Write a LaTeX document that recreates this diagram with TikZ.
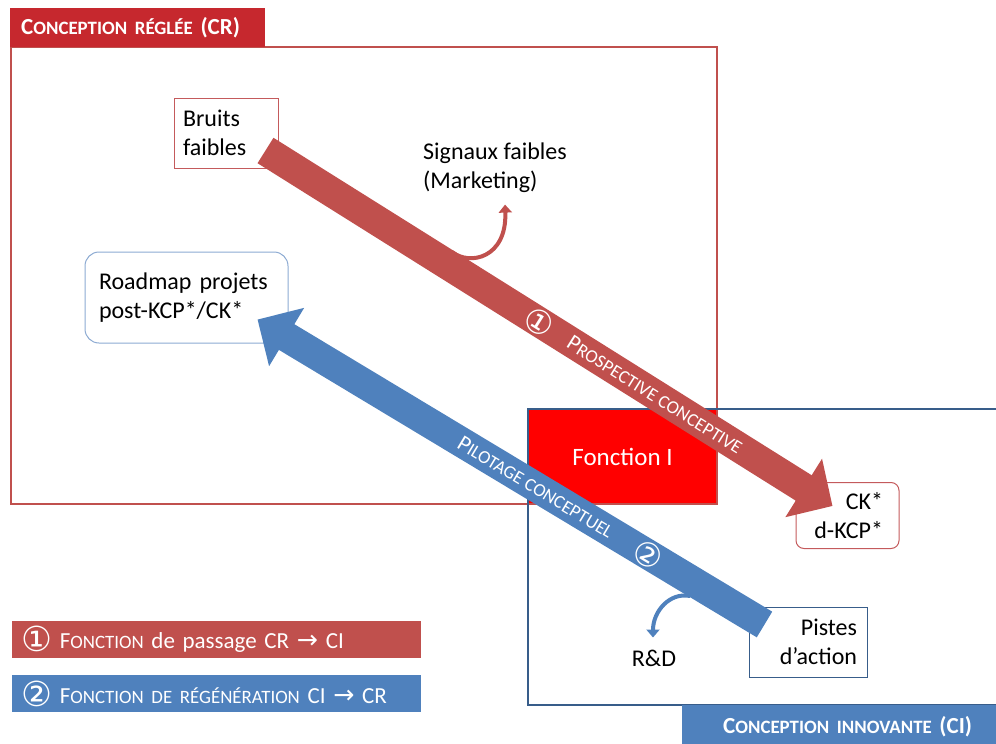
\documentclass[tikz,border=0pt]{standalone}
\usepackage{fontspec}
\setmainfont{Carlito}
\newfontfamily\symfont{DejaVu Sans}
\usetikzlibrary{arrows.meta,calc}

\definecolor{crred}{RGB}{192,80,77}
\definecolor{crtab}{RGB}{198,40,46}
\definecolor{crline}{RGB}{196,90,92}
\definecolor{ciblue}{RGB}{79,129,189}
\definecolor{ciline}{RGB}{56,93,138}
\definecolor{rmline}{RGB}{140,170,210}

\newcommand{\smc}[1]{{\fontsize{0.82em}{1em}\selectfont #1}}
\newcommand{\cnum}[2][1.1em]{{\symfont\fontsize{#1}{1em}\selectfont #2}}

\begin{document}
\begin{tikzpicture}[x=1pt, y=-1pt,
  font=\fontsize{24}{29}\selectfont,
  box/.style={rectangle, inner ysep=0pt, line width=1pt},
  tab/.style={rectangle, anchor=west, text=white, font=\fontsize{23}{28}\selectfont\bfseries, align=left},
  zone/.style={line width=1.5pt},
  band/.style={line width=30pt},
  bandtxt/.style={text=white, font=\fontsize{22.5}{24}\selectfont, sloped, inner sep=0pt},
  curl/.style={line width=4pt, -{Triangle[length=8pt, width=13pt]}},
  legend/.style={rectangle, anchor=west, minimum height=37pt, text width=391pt, inner xsep=9pt, align=left, text=white, font=\fontsize{23}{28}\selectfont},
]
\useasboundingbox (0,0) rectangle (996,744);
\clip (0,0) rectangle (996,744);

% ---------------- Zones CR / CI ----------------
\node[fill=red, minimum width=189pt, minimum height=95pt, text=white, font=\fontsize{25}{30}\selectfont] (fonc) at (622.5,456.5) {Fonction I};
\draw[zone, crred] (11,47) rectangle (717,504);
\draw[zone, ciline] (528,409) rectangle (1010,705);
\node[tab, fill=crtab, minimum height=39pt, text width=233pt, inner xsep=11pt] (crtitle) at (10,27.5) {C\smc{ONCEPTION RÉGLÉE} (CR)};
\node[tab, fill=ciblue, minimum height=44pt, text width=306pt, inner xsep=41pt] (cititle) at (682,727) {C\smc{ONCEPTION INNOVANTE} (CI)};

% ---------------- Boxes ----------------
\node[box, draw=crline, minimum width=104pt, minimum height=70pt, text width=86pt, inner xsep=9pt, align=left] (bruits) at (226,133) {Bruits\\faibles};
\node[box, draw=rmline, rounded corners=14pt, minimum width=203pt, minimum height=91pt, text width=175pt, inner xsep=14pt, align=left] (roadmap) at (186.5,297.5) {Roadmap projets\\post-KCP*/CK*};
\node[box, draw=crline, rounded corners=8pt, minimum width=103pt, minimum height=66pt, text width=71pt, inner xsep=16pt, align=right] (ck) at (847.5,515.5) {CK*\\d-KCP*};
\node[box, draw=ciline, minimum width=118pt, minimum height=70pt, text width=98pt, inner xsep=10pt, align=right] (pistes) at (808,642) {Pistes\\d’action};
\node[anchor=west, align=left, inner sep=0pt] (signaux) at (423,167.5) {Signaux faibles\\(Marketing)};
\node[inner sep=0pt] (rd) at (654,658) {R\&D};

% ---------------- Bands ----------------
\draw[band, crred, -{Triangle[length=34pt, width=67pt]}] ($(bruits.south east)+(-13,-18)$) -- ($(ck.north west)+(37,24)$)
  node[bandtxt, pos=0.482] {\cnum[1.45em]{①}}
  node[bandtxt, pos=0.687] {P\smc{ROSPECTIVE CONCEPTIVE}};
\draw[band, ciblue, -{Triangle[length=34pt, width=66pt]}] ($(pistes.north west)+(16,18)$) -- ($(roadmap.south east)+(-31,-24)$)
  node[bandtxt, pos=0.229] {\cnum[1.45em]{②}}
  node[bandtxt, pos=0.451] {P\smc{ILOTAGE CONCEPTUEL}};

\coordinate (sfbase) at (452,252);
\coordinate (rdbase) at (690,596);
\draw[curl, crred] (sfbase) .. controls (470,266) and (507,258) .. ($(signaux.south)+(10,12)$);
\draw[curl, ciblue] (rdbase) .. controls (670,592) and (653,611) .. ($(rd.north)+(-1,-12)$);

% ---------------- Legend ----------------
\node[legend, fill=crred] (leg1) at (12,639.5) {\raisebox{-3pt}{\cnum[1.5em]{①}} F\smc{ONCTION} de passage CR \cnum{→} CI};
\node[legend, fill=ciblue] (leg2) at (12,693.5) {\raisebox{-3pt}{\cnum[1.5em]{②}} F\smc{ONCTION DE RÉGÉNÉRATION} CI \cnum{→} CR};
\end{tikzpicture}
\end{document}
